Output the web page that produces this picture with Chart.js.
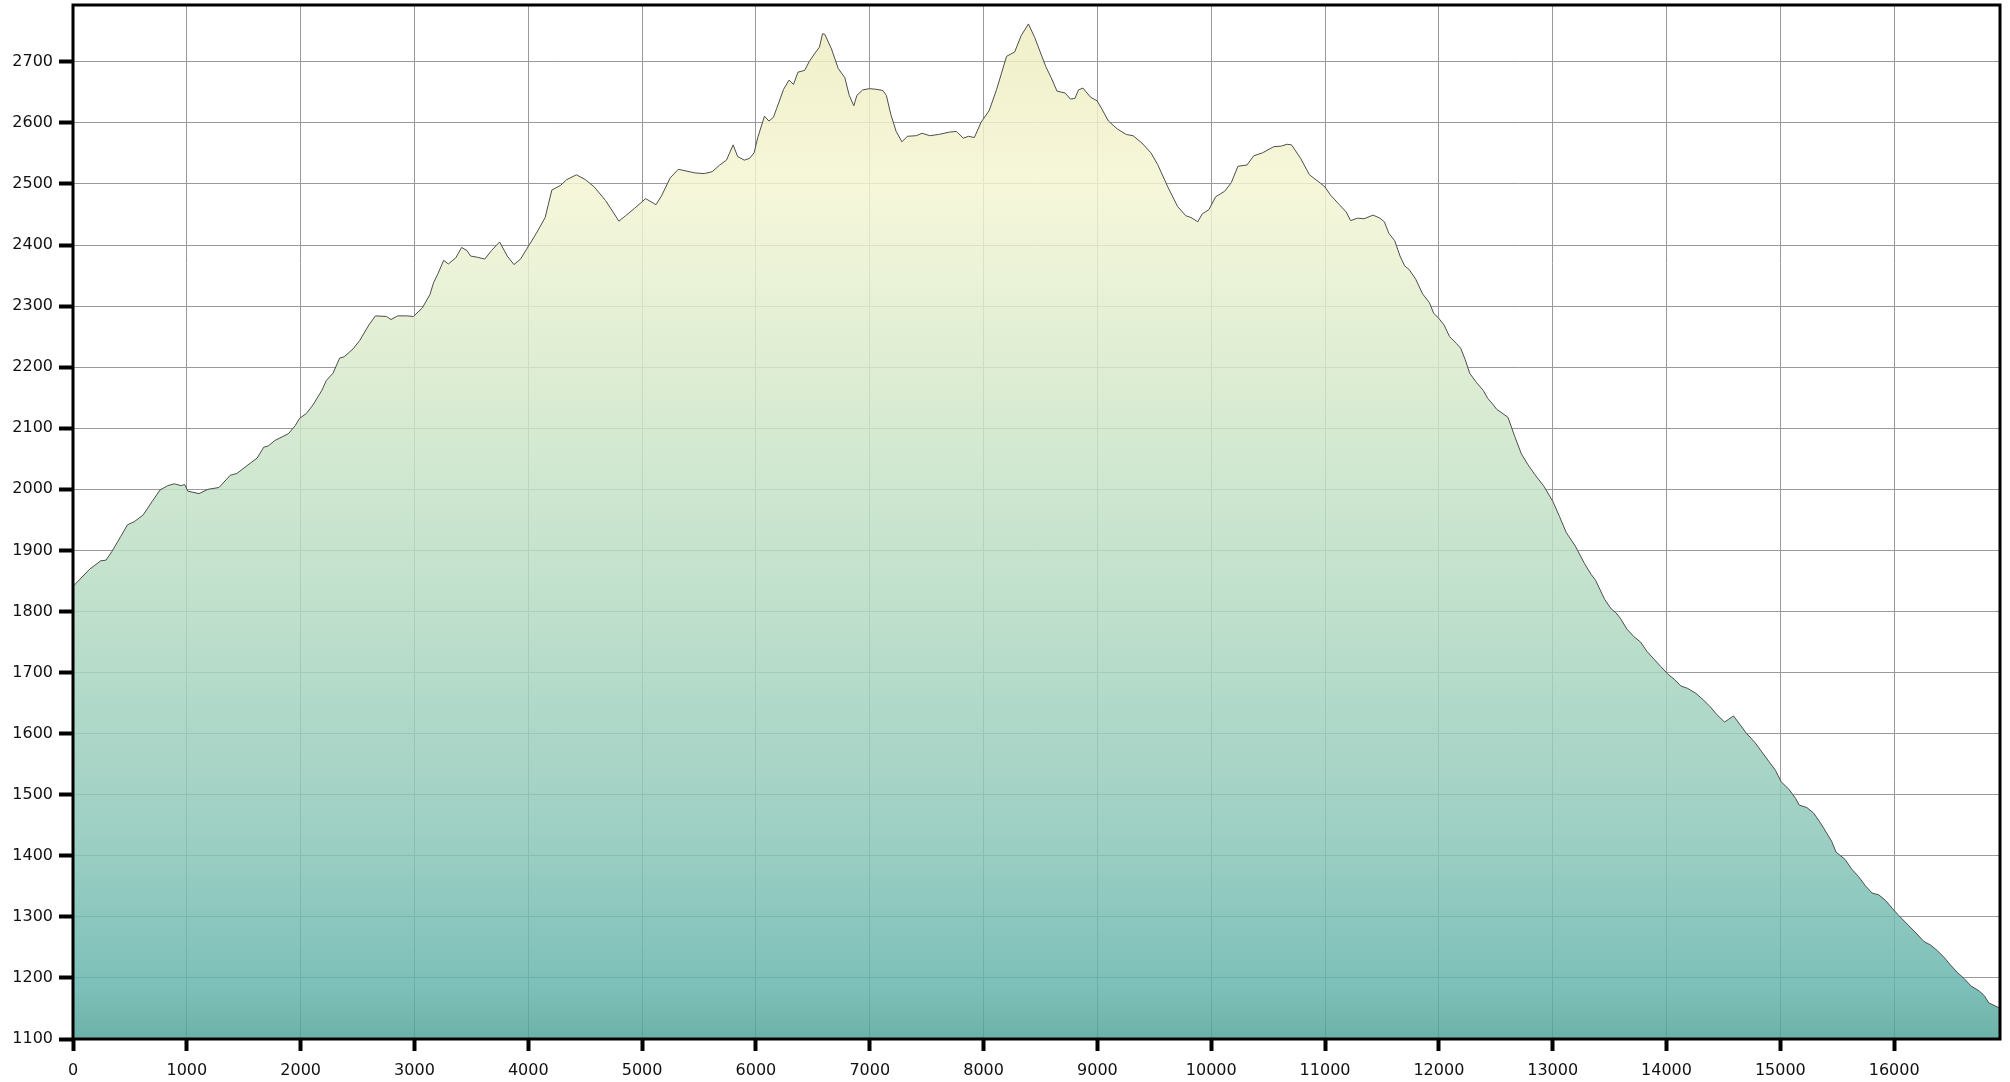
<!DOCTYPE html>
<html>
<head>
<meta charset="utf-8">
<title>Elevation profile</title>
<script src="https://cdn.jsdelivr.net/npm/chart.js@4.4.1/dist/chart.umd.min.js"></script>
<style>
    html, body { margin: 0; padding: 0; background: #fff; }
    #wrap { width: 2010px; height: 1082px; }
</style>
</head>
<body>
<div id="wrap"><canvas id="profileChart" width="2010" height="1082"></canvas></div>
<script>
// Profile data: distance (m) and elevation (m)
const distances = [
    0, 145, 243, 290, 341, 420, 479, 538, 616, 695, 765, 832, 891, 950, 981, 1009,
    1107, 1185, 1283, 1381, 1440, 1558, 1617, 1676, 1715, 1774, 1892, 1951, 1990, 2049,
    2108, 2186, 2225, 2284, 2343, 2382, 2461, 2520, 2599, 2657, 2755, 2794, 2853, 2932,
    2991, 3069, 3136, 3167, 3206, 3257, 3297, 3363, 3414, 3461, 3493, 3552, 3618, 3677,
    3748, 3815, 3874, 3932, 4011, 4070, 4148, 4207, 4286, 4337, 4423, 4502, 4580, 4678,
    4745, 4796, 4855, 4933, 5031, 5122, 5169, 5247, 5318, 5368, 5466, 5545, 5615, 5682,
    5741, 5800, 5839, 5898, 5945, 5984, 6016, 6075, 6114, 6153, 6181, 6243, 6291, 6330,
    6369, 6428, 6467, 6518, 6558, 6585, 6605, 6664, 6723, 6781, 6820, 6860, 6887, 6938,
    6997, 7056, 7115, 7146, 7185, 7232, 7283, 7330, 7409, 7460, 7527, 7605, 7703, 7762,
    7821, 7868, 7919, 7978, 8049, 8115, 8202, 8273, 8331, 8394, 8449, 8508, 8547, 8594,
    8645, 8716, 8763, 8802, 8834, 8873, 8940, 8998, 9038, 9097, 9175, 9254, 9313, 9391,
    9470, 9529, 9619, 9705, 9776, 9823, 9882, 9921, 9980, 10039, 10118, 10176, 10235, 10314,
    10373, 10451, 10549, 10616, 10667, 10706, 10785, 10863, 10961, 11000, 11047, 11126, 11186, 11225,
    11284, 11343, 11422, 11482, 11521, 11561, 11612, 11659, 11699, 11738, 11797, 11857, 11916, 11955,
    11995, 12046, 12094, 12153, 12192, 12232, 12271, 12330, 12390, 12429, 12480, 12508, 12547, 12607,
    12666, 12725, 12784, 12844, 12923, 13002, 13061, 13120, 13199, 13278, 13337, 13377, 13456, 13515,
    13555, 13594, 13653, 13712, 13772, 13831, 13890, 13949, 14009, 14068, 14127, 14187, 14258, 14325,
    14384, 14443, 14510, 14542, 14589, 14641, 14700, 14779, 14838, 14897, 14957, 15008, 15075, 15134,
    15166, 15233, 15292, 15352, 15411, 15450, 15490, 15569, 15628, 15687, 15747, 15806, 15865, 15924,
    15983, 16042, 16121, 16200, 16259, 16319, 16378, 16437, 16496, 16555, 16615, 16674, 16745, 16792,
    16832, 16891, 16930
];
const elevations = [
    1841, 1869, 1883, 1884, 1898, 1923, 1942, 1947, 1958, 1980, 1999, 2006, 2009, 2006, 2008, 1997,
    1993, 2000, 2003, 2023, 2026, 2043, 2051, 2069, 2071, 2080, 2091, 2104, 2116, 2124,
    2138, 2162, 2178, 2190, 2215, 2217, 2230, 2244, 2269, 2284, 2283, 2278, 2284, 2284,
    2283, 2297, 2319, 2338, 2353, 2375, 2369, 2379, 2396, 2391, 2382, 2380, 2377, 2391,
    2405, 2382, 2368, 2377, 2401, 2419, 2445, 2490, 2498, 2507, 2515, 2507, 2495, 2473,
    2454, 2439, 2448, 2460, 2476, 2466, 2480, 2510, 2524, 2522, 2518, 2517, 2520, 2531,
    2539, 2564, 2545, 2539, 2542, 2551, 2576, 2611, 2603, 2609, 2623, 2655, 2670, 2663,
    2683, 2686, 2700, 2714, 2724, 2746, 2745, 2721, 2689, 2674, 2645, 2628, 2645, 2654,
    2656, 2655, 2653, 2645, 2614, 2586, 2569, 2578, 2579, 2583, 2579, 2581, 2585, 2586,
    2575, 2578, 2576, 2601, 2620, 2655, 2709, 2716, 2743, 2762, 2740, 2711, 2692, 2674,
    2652, 2649, 2639, 2640, 2654, 2657, 2642, 2636, 2623, 2603, 2590, 2581, 2579, 2567,
    2551, 2532, 2495, 2463, 2448, 2445, 2438, 2451, 2458, 2479, 2488, 2502, 2529, 2531,
    2546, 2551, 2561, 2562, 2565, 2564, 2542, 2515, 2501, 2495, 2482, 2466, 2454, 2440,
    2444, 2443, 2449, 2444, 2438, 2419, 2407, 2382, 2366, 2360, 2344, 2320, 2306, 2288,
    2281, 2269, 2250, 2239, 2231, 2212, 2190, 2175, 2162, 2149, 2138, 2131, 2126, 2118,
    2087, 2058, 2040, 2024, 2005, 1980, 1955, 1929, 1907, 1879, 1861, 1851, 1820, 1804,
    1798, 1789, 1771, 1759, 1750, 1734, 1722, 1710, 1698, 1689, 1678, 1674, 1666, 1655,
    1644, 1631, 1619, 1623, 1629, 1616, 1601, 1585, 1570, 1555, 1540, 1521, 1509, 1494,
    1483, 1479, 1470, 1454, 1436, 1424, 1406, 1394, 1378, 1366, 1351, 1339, 1336, 1327,
    1314, 1302, 1287, 1272, 1260, 1254, 1245, 1234, 1221, 1209, 1199, 1187, 1179, 1171,
    1159, 1154, 1150
];
const xTickValues = [0, 1000, 2000, 3000, 4000, 5000, 6000, 7000, 8000, 9000, 10000,
    11000, 12000, 13000, 14000, 15000, 16000];
const yTickValues = [1100, 1200, 1300, 1400, 1500, 1600, 1700, 1800, 1900, 2000,
    2100, 2200, 2300, 2400, 2500, 2600, 2700];

const points = distances.map((d, i) => ({ x: d, y: elevations[i] }));

// vertical gradient, yellow at the top to teal at the bottom
function fillGradient(context) {
    const area = context.chart.chartArea;
    if (!area) return 'rgba(180,215,195,0.83)';
    const g = context.chart.ctx.createLinearGradient(0, area.top, 0, area.bottom);
    g.addColorStop(0.00, 'rgba(238,236,190,0.83)');
    g.addColorStop(0.18, 'rgba(244,245,210,0.83)');
    g.addColorStop(0.46, 'rgba(197,226,198,0.83)');
    g.addColorStop(0.58, 'rgba(179,218,194,0.83)');
    g.addColorStop(0.80, 'rgba(138,198,184,0.83)');
    g.addColorStop(0.95, 'rgba(98,179,171,0.83)');
    g.addColorStop(1.00, 'rgba(79,162,150,0.83)');
    return g;
}

// black frame around the plot area
const frame = {
    id: 'frame',
    afterDatasetsDraw(chart) {
        const { ctx, chartArea: a } = chart;
        ctx.save();
        ctx.strokeStyle = '#000';
        ctx.lineWidth = 3;
        ctx.strokeRect(a.left, a.top, a.right - a.left, a.bottom - a.top);
        ctx.restore();
    }
};

const tickFont = { family: "'DejaVu Sans', Verdana, sans-serif", size: 16 };

new Chart(document.getElementById('profileChart'), {
    type: 'line',
    data: {
        datasets: [{
            data: points,
            borderColor: '#4d4d4d',
            borderWidth: 1,
            backgroundColor: fillGradient,
            fill: 'start',
            pointRadius: 0,
            tension: 0
        }]
    },
    options: {
        responsive: false,
        animation: false,
        layout: { padding: { left: 0, top: 5, right: 10, bottom: 0 } },
        plugins: {
            legend: { display: false },
            tooltip: { enabled: false }
        },
        scales: {
            x: {
                type: 'linear',
                min: 0,
                max: 16930,
                afterBuildTicks: (scale) => { scale.ticks = xTickValues.map(v => ({ value: v })); },
                afterFit: (scale) => { scale.height = 43; scale.paddingLeft = 0; scale.paddingRight = 0; },
                border: { display: false },
                grid: {
                    color: '#999',
                    lineWidth: 1,
                    tickColor: '#000',
                    tickWidth: 4,
                    tickLength: 12
                },
                ticks: {
                    color: '#111',
                    font: tickFont,
                    padding: 10,
                    maxRotation: 0,
                    callback: (v) => String(v)
                }
            },
            y: {
                min: 1100,
                max: 2793,
                afterBuildTicks: (scale) => { scale.ticks = yTickValues.map(v => ({ value: v })); },
                afterFit: (scale) => { scale.width = 73; scale.paddingTop = 0; scale.paddingBottom = 0; },
                border: { display: false },
                grid: {
                    color: '#999',
                    lineWidth: 1,
                    tickColor: '#000',
                    tickWidth: 4,
                    tickLength: 14
                },
                ticks: {
                    color: '#111',
                    font: tickFont,
                    padding: 6,
                    callback: (v) => String(v)
                }
            }
        }
    },
    plugins: [frame]
});
</script>
</body>
</html>
